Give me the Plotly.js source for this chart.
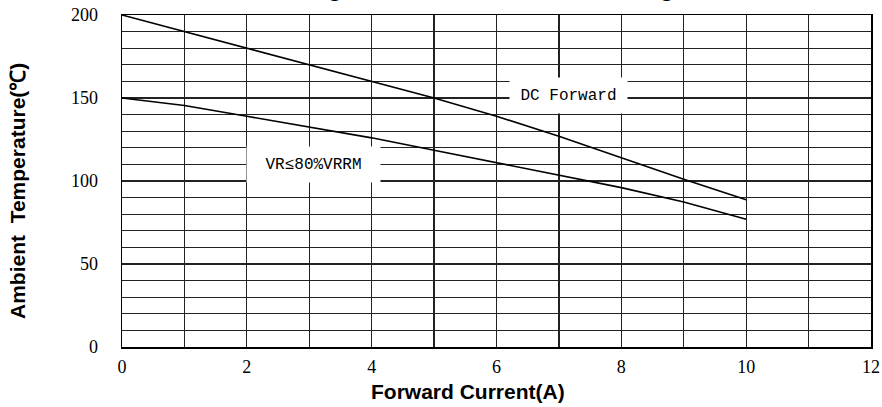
<!DOCTYPE html>
<html>
<head>
<meta charset="utf-8">
<script src="https://cdn.plot.ly/plotly-3.0.1.min.js"></script>
<style>html,body{margin:0;padding:0;background:#fff;}#chart{width:882px;height:407px;}</style>
</head>
<body>
<div id="chart"></div>
<script>
const currentA = [0, 1, 2, 3, 4, 5, 6, 7, 8, 9, 10];
const dcForward = [200, 190, 180, 170, 160, 150, 139, 127, 114, 101, 88.7];
const vr80 = [150, 145.5, 139, 132.5, 126, 118.5, 111, 103.5, 96, 87.4, 77];
const xTicks = [0, 2, 4, 6, 8, 10, 12];
const yTicks = [0, 50, 100, 150, 200];
const seriesLabels = ["DC Forward", "VR≤80%VRRM"];
const xTitle = "Forward Current(A)";
const yTitle = "Ambient  Temperature(℃)";
const chartTitle = "Fig.2 Forward Current Derating Curve";

const lineStyle = {color: '#000', width: 1.6};
const traces = [
  {x: currentA, y: dcForward, mode: 'lines', line: lineStyle, name: seriesLabels[0], hoverinfo: 'skip'},
  {x: currentA, y: vr80, mode: 'lines', line: lineStyle, name: seriesLabels[1], hoverinfo: 'skip'}
];

const tickFont = {family: 'Liberation Serif, Times New Roman, serif', size: 18, color: '#000'};
const titleFont = {family: 'Liberation Sans, Arial, sans-serif', size: 21, color: '#000'};
const labelFont = {family: 'Liberation Mono, Courier New, monospace', size: 16, color: '#000'};

const layout = {
  width: 882, height: 407,
  margin: {l: 122, r: 11, t: 15, b: 60, pad: 0},
  paper_bgcolor: '#fff', plot_bgcolor: '#fff',
  showlegend: false,
  xaxis: {
    range: [0, 12], tickvals: xTicks, ticktext: xTicks.map(String),
    showgrid: true, gridcolor: '#222', gridwidth: 1.2,
    minor: {dtick: 1, showgrid: true, gridcolor: '#222', gridwidth: 1.2},
    zeroline: false, showline: true, linecolor: '#000', linewidth: 1.5, mirror: true,
    ticks: '', tickfont: tickFont, ticklabelstandoff: 3
  },
  yaxis: {
    range: [0, 200], tickvals: yTicks, ticktext: yTicks.map(String),
    showgrid: true, gridcolor: '#222', gridwidth: 1.2,
    minor: {dtick: 10, showgrid: true, gridcolor: '#222', gridwidth: 1.2},
    zeroline: false, showline: true, linecolor: '#000', linewidth: 1.5, mirror: true,
    ticks: '', tickfont: tickFont, ticklabelstandoff: 19
  },
  annotations: [
    {x: 7.15, y: 151.5, xref: 'x', yref: 'y', text: seriesLabels[0], showarrow: false,
     font: labelFont, bgcolor: '#fff', width: 117, height: 35, borderpad: 0},
    {x: 3.07, y: 109.7, xref: 'x', yref: 'y', text: seriesLabels[1], showarrow: false,
     font: labelFont, bgcolor: '#fff', width: 133, height: 35, borderpad: 0},
    {x: 0.2417, y: 1, xref: 'paper', yref: 'paper', xanchor: 'left', yanchor: 'bottom', yshift: 12,
     text: '<b>' + chartTitle + '</b>', showarrow: false,
     font: {family: 'Liberation Sans, Arial, sans-serif', size: 25, color: '#000'}},
    {x: 468, y: 391, xref: 'paper', yref: 'paper', xanchor: 'center', yanchor: 'middle', showarrow: false,
     text: '<b>' + xTitle + '</b>', font: titleFont},
    {x: 18, y: 191, xref: 'paper', yref: 'paper', xanchor: 'center', yanchor: 'middle', showarrow: false,
     textangle: -90, text: '<b>' + yTitle + '</b>', font: titleFont}
  ]
};
// convert pixel-positioned axis-title annotations to paper coordinates
const pw = 882 - layout.margin.l - layout.margin.r;
const ph = 407 - layout.margin.t - layout.margin.b;
[3, 4].forEach(i => {
  const a = layout.annotations[i];
  a.x = (a.x - layout.margin.l) / pw;
  a.y = (407 - layout.margin.b - a.y) / ph;
});

Plotly.newPlot('chart', traces, layout, {displayModeBar: false, staticPlot: true});
</script>
</body>
</html>
